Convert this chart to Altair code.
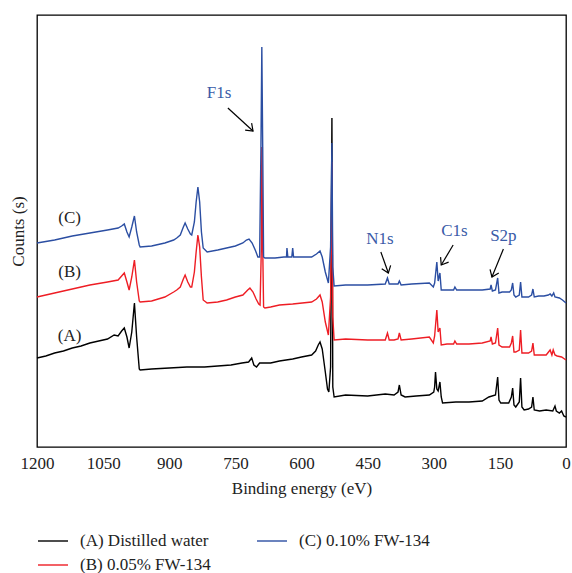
import altair as alt
import pandas as pd

# ---------------- data ----------------
energy_A = [1200, 1180, 1160, 1140, 1120, 1100, 1080, 1060, 1040, 1025, 1016, 1008, 1002, 996, 991, 985, 979, 974, 968, 966,
            940, 900, 860, 820, 790, 760, 735, 720, 713, 708, 702, 695, 687, 670, 650, 620, 600, 577, 568, 562, 558, 553,
            546, 541, 538, 534, 531, 529, 526, 500, 450, 410, 390, 381, 378, 374, 365, 340, 310, 300, 298, 296, 293, 290,
            286, 283, 280, 250, 220, 190, 175, 160, 155, 152, 148, 130, 124, 121, 118, 114, 106, 103, 100, 95, 85, 78, 75,
            72, 60, 45, 30, 25, 22, 15, 10, 5, 0]
counts_A = [89, 91, 94, 96, 99, 101, 104, 106, 108, 112, 111, 116, 119, 110, 99, 115, 144, 110, 78, 77,
            78, 79, 80, 80, 81, 82, 84, 85, 89, 82, 80, 84, 84, 84, 86, 88, 90, 92, 96, 102, 105, 98,
            75, 58, 55, 80, 329, 60, 50, 52, 51, 53, 52, 55, 62, 52, 50, 51, 52, 55, 60, 75, 58, 56,
            65, 50, 44, 45, 45, 46, 50, 52, 70, 47, 44, 44, 50, 59, 42, 40, 45, 69, 40, 37, 38, 40, 50,
            37, 36, 37, 36, 41, 36, 34, 36, 31, 30]

energy_B = [1200, 1160, 1120, 1080, 1040, 1016, 1008, 1002, 996, 991, 985, 979, 974, 968, 966, 940, 910, 890, 883, 875,
            868, 864, 858, 852, 849, 843, 839, 835, 831, 827, 823, 814, 790, 770, 750, 733, 722, 717, 710, 703, 697, 694,
            691, 690, 688, 686, 683, 670, 650, 620, 577, 566, 558, 553, 546, 539, 534, 531, 529, 526, 500, 450, 410, 405,
            401, 390, 381, 378, 374, 350, 310, 301, 298, 293, 290, 286, 283, 270, 255, 252, 248, 220, 190, 172, 170, 167,
            160, 155, 152, 145, 128, 124, 121, 118, 114, 106, 103, 100, 95, 85, 78, 75, 72, 60, 45, 36, 32, 29, 25, 20,
            10, 0]
counts_B = [150, 154, 158, 162, 165, 167, 171, 174, 165, 157, 170, 187, 165, 146, 145, 146, 150, 155, 157, 160,
            168, 172, 165, 160, 160, 175, 195, 212, 200, 170, 147, 144, 145, 147, 150, 152, 157, 159, 155, 148, 143, 142,
            200, 300, 200, 140, 139, 140, 142, 143, 145, 148, 152, 145, 125, 112, 150, 285, 130, 107, 108, 107, 107, 114,
            107, 107, 108, 114, 107, 108, 110, 104, 111, 137, 115, 119, 102, 103, 103, 106, 103, 103, 104, 106, 110, 103,
            104, 119, 102, 100, 100, 104, 111, 95, 95, 97, 117, 94, 94, 94, 96, 104, 92, 92, 92, 97, 92, 97, 92, 91,
            90, 87]

energy_C = [1200, 1160, 1120, 1080, 1040, 1016, 1008, 1002, 996, 991, 985, 979, 974, 968, 966, 940, 910, 890, 883, 875,
            868, 864, 858, 852, 849, 843, 839, 835, 831, 827, 823, 814, 790, 770, 750, 733, 725, 719, 712, 704, 699, 695,
            692, 690, 688, 686, 683, 660, 640, 634, 633, 631, 622, 620, 618, 600, 577, 566, 558, 553, 546, 539, 534, 531,
            529, 526, 500, 450, 410, 405, 401, 390, 381, 378, 374, 350, 310, 301, 298, 293, 290, 286, 283, 270, 255, 252,
            248, 220, 190, 172, 170, 167, 160, 155, 152, 145, 128, 124, 121, 118, 114, 106, 103, 100, 95, 85, 78, 75, 72,
            62, 50, 40, 36, 32, 28, 25, 15, 8, 0]
counts_C = [204, 207, 211, 214, 217, 219, 221, 223, 215, 210, 220, 231, 215, 202, 200, 201, 204, 207, 209, 212,
            220, 224, 218, 213, 212, 225, 245, 260, 245, 215, 199, 195, 197, 199, 201, 204, 207, 208, 204, 196, 190, 190,
            300, 400, 300, 190, 189, 189, 190, 190, 199, 190, 190, 199, 190, 190, 190, 193, 196, 190, 175, 164, 200, 304,
            180, 161, 162, 162, 163, 169, 163, 163, 163, 166, 162, 163, 164, 160, 164, 185, 166, 174, 157, 157, 157, 160,
            157, 157, 157, 158, 162, 156, 157, 169, 154, 155, 155, 157, 164, 152, 150, 152, 165, 150, 150, 150, 152, 158, 150,
            151, 151, 152, 153, 151, 154, 150, 149, 147, 144]

series_names = ["(A) Distilled water", "(B) 0.05% FW-134", "(C) 0.10% FW-134"]
series_colors = ["#000000", "#ee1d24", "#2b4ea2"]

x_ticks = [1200, 1050, 900, 750, 600, 450, 300, 150, 0]

# series labels inside plot
tag_text = ["(C)", "(B)", "(A)"]
tag_e = [1126, 1126, 1126]
tag_c = [229, 175, 111]

# peak annotations
ann_text = ["F1s", "N1s", "C1s", "S2p"]
ann_e = [787, 422, 253, 142]
ann_c = [354, 208, 216, 211]
arr_e1 = [767, 420, 256, 142]
arr_c1 = [339, 195, 202, 198]
arr_e2 = [710, 403, 283, 168]
arr_c2 = [316, 174, 182, 170]
arr_angle = [43, 70, 122, 113]

# ---------------- build ----------------
frames = []
for name, e, c in zip(series_names, [energy_A, energy_B, energy_C], [counts_A, counts_B, counts_C]):
    frames.append(pd.DataFrame({"E": e, "Counts": c, "Series": name}))

FONT = "Liberation Serif"
xscale = alt.Scale(domain=[0, 1200], reverse=True, nice=False, zero=False)
yscale = alt.Scale(domain=[0, 432], nice=False, zero=False)

xenc = alt.X("E:Q", scale=xscale,
             axis=alt.Axis(values=x_ticks, format="d", title="Binding energy (eV)", grid=False, ticks=False,
                           domain=False, labelFontSize=17, titleFontSize=17, labelFont=FONT,
                           titleFont=FONT, titleFontWeight="normal", labelPadding=8, titlePadding=9,
                           labelColor="#222222", titleColor="#222222", labelFlush=False))
yenc = alt.Y("Counts:Q", scale=yscale,
             axis=alt.Axis(title="Counts (s)", labels=False, ticks=False, grid=False, domain=False,
                           titleFontSize=17, titleFont=FONT, titleFontWeight="normal", titlePadding=10,
                           titleColor="#222222"))
color = alt.Color("Series:N",
                  scale=alt.Scale(domain=series_names, range=series_colors),
                  legend=alt.Legend(title=None, orient="none", legendX=0, legendY=510, columns=2,
                                    symbolType="stroke", symbolSize=900, symbolStrokeWidth=1.4,
                                    labelFont=FONT, labelFontSize=17, labelColor="#222222",
                                    labelOffset=11, columnPadding=43, rowPadding=0, labelLimit=300))

layers = []
for f in frames:
    layers.append(alt.Chart(f).mark_line(strokeWidth=1.4).encode(x=xenc, y=yenc, color=color))

tags = alt.Chart(pd.DataFrame({"E": tag_e, "Counts": tag_c, "t": tag_text})).mark_text(
    font=FONT, fontSize=17, color="#222222").encode(
    x=alt.X("E:Q", scale=xscale), y=alt.Y("Counts:Q", scale=yscale), text="t:N")

ann_df = pd.DataFrame({"E": ann_e, "Counts": ann_c, "t": ann_text,
                       "E1": arr_e1, "C1": arr_c1, "E2": arr_e2, "C2": arr_c2, "ang": arr_angle})
ann = alt.Chart(ann_df).mark_text(font=FONT, fontSize=17, color="#3a5ba8").encode(
    x=alt.X("E:Q", scale=xscale), y=alt.Y("Counts:Q", scale=yscale), text="t:N")
shafts = alt.Chart(ann_df).mark_rule(color="#000000", strokeWidth=1.2).encode(
    x=alt.X("E1:Q", scale=xscale), x2="E2:Q", y=alt.Y("C1:Q", scale=yscale), y2="C2:Q")
heads = alt.Chart(ann_df).mark_point(shape="M-1,-0.75L0,0L-1,0.75", filled=False, color="#000000",
                                     strokeWidth=1.2, size=160, opacity=1).encode(
    x=alt.X("E2:Q", scale=xscale), y=alt.Y("C2:Q", scale=yscale), angle=alt.Angle("ang:Q", scale=None))

chart = alt.layer(*layers, tags, ann, shafts, heads).properties(
    width=529, height=432,
    autosize=alt.AutoSizeParams(type="none"),
    padding={"left": 37, "top": 15, "right": 6, "bottom": 126},
    background="white",
).configure_view(stroke="#000000", strokeWidth=1.3)

chart.save("out.html", embed_options={"renderer": "svg", "actions": False})
